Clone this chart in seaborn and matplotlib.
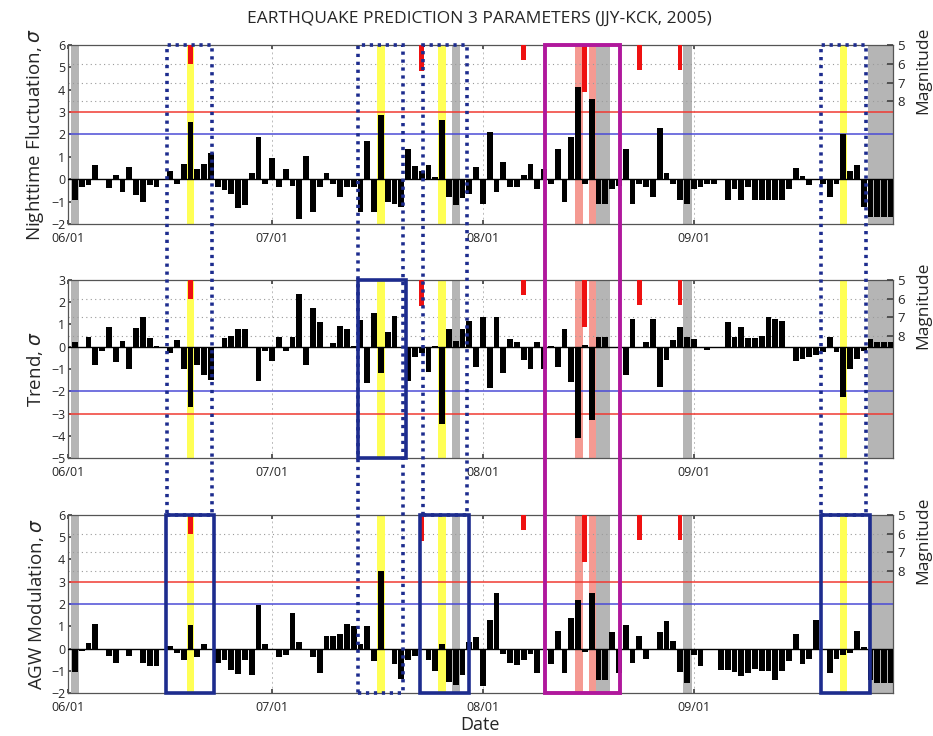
import numpy as np
import pandas as pd
import matplotlib
matplotlib.use("Agg")
import matplotlib.pyplot as plt
import matplotlib.transforms as mtransforms
from matplotlib.patches import Rectangle
import seaborn as sns

# Daily values, day 0 = 06/01/2005
days = np.arange(1, 122)

nighttime = [-0.95, -0.35, -0.25, 0.65, -0.05, -0.4, 0.2, -0.55, 0.55, -0.7,
             -1.0, -0.25, -0.35, 0.0, 0.35, -0.2, 0.7, 2.55, 0.45, 0.7,
             1.15, -0.35, -0.5, -0.65, -1.3, -1.15, 0.3, 1.9, -0.2, 0.95,
             -0.35, 0.45, -0.3, -1.8, 1.05, -1.45, -0.35, 0.3, -0.2, -0.8,
             -0.35, -0.35, -1.45, 1.7, -1.45, 2.85, -1.0, -1.1, -1.25, 1.35,
             0.6, 0.35, 0.65, 0.1, 2.65, -0.8, -1.15, -0.85, -0.65, 0.55,
             -1.1, 2.1, -0.55, 0.75, -0.35, -0.35, 0.2, 0.7, -0.45, 0.45,
             -0.2, 1.35, -1.0, 1.9, 4.1, -0.2, 3.6, -1.1, -1.1, -0.45,
             -0.3, 1.35, -1.1, -0.2, -0.35, -0.8, 2.3, 0.3, -0.2, -0.95,
             -1.1, -0.45, -0.35, -0.2, -0.2, -0.05, -0.95, -0.45, -0.95, -0.35,
             -0.95, -0.95, -0.95, -0.95, -0.95, -0.45, 0.5, 0.15, -0.25, 0.0,
             -0.2, -0.8, -0.2, 2.0, 0.35, 0.65, -1.25, -1.7, -1.7, -1.7,
             -1.7]

trend = [0.2, 0.0, 0.45, -0.8, -0.2, 0.9, -0.7, 0.25, -1.0, 0.85,
         1.35, 0.4, 0.05, 0.0, -0.3, 0.3, -1.0, -2.7, -0.8, -1.25,
         -1.5, -0.05, 0.4, 0.5, 0.8, 0.8, 0.0, -1.55, -0.2, -0.65,
         0.45, -0.2, 0.45, 2.35, -0.8, 1.75, 1.1, 0.0, 0.15, 0.95,
         0.8, 0.05, 1.2, -1.65, 1.5, -1.2, 0.65, 1.4, 0.0, -1.55,
         -0.45, -0.3, -1.15, 0.05, -3.45, 0.8, 0.25, 0.8, 1.15, -0.9,
         1.35, -1.85, 1.35, -1.2, 0.35, 0.2, -0.6, -1.0, 0.2, -1.0,
         0.05, -0.9, 0.8, -1.6, -4.1, 0.1, -3.3, 0.45, 0.45, 0.0,
         0.0, -1.25, 1.25, -0.05, 0.2, 1.25, -1.8, -0.6, 0.3, 0.9,
         0.45, 0.35, 0.0, -0.15, 0.0, 0.0, 1.1, 0.45, 0.9, 0.4,
         0.4, 0.5, 1.35, 1.25, 1.15, 0.0, -0.65, -0.55, -0.45, -0.35,
         -0.25, 0.45, -0.25, -2.25, -1.0, -0.55, -0.2, 0.35, 0.2, 0.2,
         0.2]

agw = [-1.05, -0.1, 0.25, 1.1, 0.0, -0.35, -0.65, -0.05, -0.35, -0.05,
       -0.65, -0.8, -0.8, 0.0, 0.1, -0.2, -0.5, 1.05, -0.4, 0.2,
       0.0, -0.65, -0.5, -0.95, -1.15, -0.5, -1.2, 1.95, 0.2, 0.0,
       -0.4, -0.3, 1.6, 0.3, 0.0, -0.4, -1.1, 0.55, 0.55, 0.65,
       1.1, 1.0, 0.2, 1.0, -0.55, 3.5, 0.0, -0.7, -1.35, -0.5,
       -0.35, 0.0, -0.5, -1.0, 0.2, -1.5, -1.65, -1.2, 0.3, 0.5,
       -1.7, 1.3, 2.5, -0.25, -0.65, -0.75, -0.5, -0.25, -1.1, 0.0,
       -0.7, 0.8, -1.1, 1.35, 2.2, -0.15, 2.5, -1.4, -1.4, 0.75,
       -1.1, 1.05, -0.65, 0.55, -0.45, 0.0, 0.75, 1.25, 0.35, -1.05,
       -1.55, -0.3, -0.8, 0.0, 0.0, -0.95, -0.95, -1.05, -1.25, -1.1,
       -0.9, -1.0, -1.0, -1.4, -1.0, -0.55, 0.65, -0.7, -0.45, 1.3,
       0.0, -1.1, -0.45, -0.3, -0.2, 0.8, 0.05, -1.4, -1.55, -1.55,
       -1.55]

# earthquakes (day, magnitude) and marked days
quake_days = [18, 52, 67, 76, 84, 90]
quake_mags = [6.0, 6.4, 5.8, 7.5, 6.35, 6.35]
alarm_days = [18, 46, 55, 114]
gray_spans = [(0.4, 1.6), (56.5, 57.7), (77.6, 79.7), (90.5, 91.7), (117.6, 121.3)]
pink_spans = [(74.5, 75.7), (76.6, 77.7)]

date_ticks = [0, 30, 61, 92]
date_labels = ["06/01", "07/01", "08/01", "09/01"]
mag_ticks = [5, 6, 7, 8]

panel_labels = ["Nighttime Fluctuation, $\\sigma$", "Trend, $\\sigma$", "AGW Modulation, $\\sigma$"]
panel_values = [nighttime, trend, agw]
panel_limits = [(-2, 6), (-5, 3), (-2, 6)]
red_levels = [3, -3, 3]
blue_levels = [2, -2, 2]

# alarm windows: dotted columns, plus the panel where the window is drawn solid
dotted_windows = [(14.5, 21.1), (42.6, 49.3), (52.2, 58.7), (110.8, 117.4)]
dotted_reach = [2, 3, 2, 2]   # 2: down to top of 3rd panel, 3: bottom of 3rd panel
solid_windows = [(14.4, 21.4, 2), (42.6, 49.7, 1), (51.8, 59.0, 2), (110.7, 117.9, 2)]
main_window = (70.1, 81.1)

sns.set_theme(style="ticks")
plt.rcParams["font.family"] = ["Open Sans", "DejaVu Sans"]

MAG_SPAN = 9.5
XMAX = 121.3
navy = "#1d2c8e"

fig = plt.figure(figsize=(9.33, 7.36), dpi=100)
rects = [[0.073, 0.6957, 0.884, 0.2432],
         [0.073, 0.3777, 0.884, 0.2419],
         [0.073, 0.0584, 0.884, 0.2419]]
axes = []
for k in range(3):
    ax = fig.add_axes(rects[k])
    lo, hi = panel_limits[k]
    to_y = lambda m: hi - (np.asarray(m) - 5) / MAG_SPAN * (hi - lo)

    for a, b in gray_spans:
        ax.axvspan(a, b, color="#b5b5b5", lw=0, zorder=0.6)
    for a, b in pink_spans:
        ax.axvspan(a, b, color="#f59a92", lw=0, zorder=0.6)
    for d in alarm_days:
        ax.axvspan(d - 0.55, d + 0.55, color="#ffff55", lw=0, zorder=0.7)

    for m in mag_ticks[1:]:
        ax.axhline(to_y(m), color="#9a9a9a", ls=(0, (1, 3)), lw=0.8, zorder=0.65)

    ax.axhline(red_levels[k], color="#f03a32", lw=1.1, zorder=1)
    ax.axhline(blue_levels[k], color="#4b4bd6", lw=1.1, zorder=1)

    sns.barplot(x=days, y=panel_values[k], native_scale=True, color="black",
                saturation=1, width=0.85, errorbar=None, linewidth=0,
                ax=ax, zorder=3)
    ax.axhline(0, color="black", lw=1.0, zorder=3)

    top = to_y(5)
    bot = to_y(np.array(quake_mags))
    ax.bar(quake_days, top - bot, bottom=bot, width=0.7, color="#ee1111",
           lw=0, zorder=4)

    ax.set_xlim(0, XMAX)
    ax.set_ylim(lo, hi)
    ax.set_yticks(np.arange(lo, hi + 1))
    ax.set_xticks(date_ticks)
    ax.set_xticklabels(date_labels)
    ax.xaxis.grid(True, color="#bbbbbb", ls=(0, (2, 3)), lw=0.7)
    ax.set_axisbelow(True)
    ax.set_xlabel("")
    ax.set_ylabel(panel_labels[k], fontsize=13.5, labelpad=4)
    ax.tick_params(direction="in", top=True, right=False, length=3,
                   labelsize=9, pad=2, color="#444444")
    ax.tick_params(axis="x", pad=6)
    for s in ax.spines.values():
        s.set_color("#555555")
        s.set_linewidth(0.9)

    ax2 = ax.twinx()
    ax2.set_ylim(5 + MAG_SPAN, 5)
    ax2.set_yticks(mag_ticks)
    ax2.tick_params(direction="in", length=4, labelsize=9.5, pad=3, color="#444444")
    ax2.set_ylabel("Magnitude", fontsize=12.5)
    ax2.yaxis.set_label_coords(1.027, 0.86)
    for s in ax2.spines.values():
        s.set_visible(False)
    axes.append(ax)

axes[2].set_xlabel("Date", fontsize=13, labelpad=1)

fig.text(0.514, 0.975, "EARTHQUAKE PREDICTION 3 PARAMETERS (JJY-KCK, 2005)",
         ha="center", va="center", fontsize=12.5)

trans = mtransforms.blended_transform_factory(axes[0].transData, fig.transFigure)
pos = [a.get_position() for a in axes]


def frame(x0, x1, y0, y1, **kw):
    fig.add_artist(Rectangle((x0, y0), x1 - x0, y1 - y0, transform=trans,
                             fill=False, clip_on=False, **kw))


for (a, b), reach in zip(dotted_windows, dotted_reach):
    ybot = pos[2].y1 if reach == 2 else pos[2].y0
    frame(a, b, ybot, pos[0].y1, ec=navy, lw=2.6, ls=(0, (0.9, 1.3)), zorder=5)

for a, b, k in solid_windows:
    frame(a, b, pos[k].y0, pos[k].y1, ec=navy, lw=2.6, zorder=6)

frame(main_window[0], main_window[1], pos[2].y0, pos[0].y1,
      ec="#b0189c", lw=2.8, zorder=6)

fig.savefig("out.png", dpi=100)
